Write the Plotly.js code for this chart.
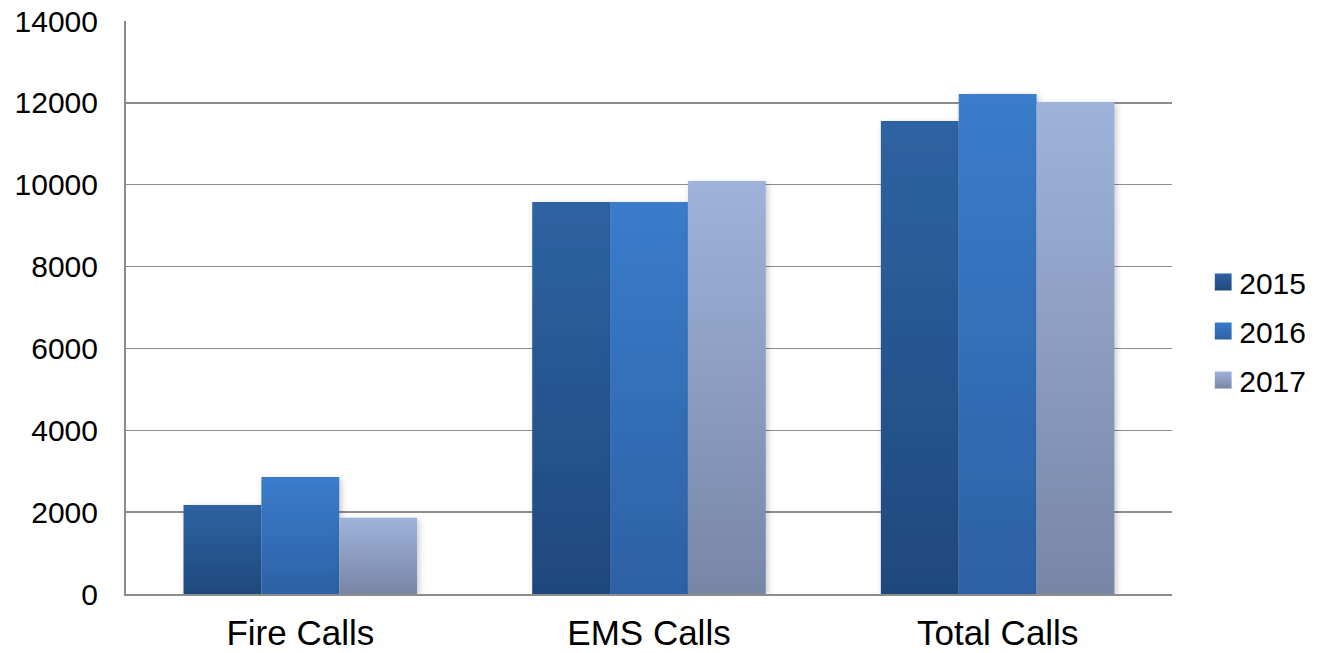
<!DOCTYPE html>
<html>
<head>
<meta charset="utf-8">
<script src="https://cdn.plot.ly/plotly-3.0.1.min.js"></script>
<style>
  html, body { margin: 0; padding: 0; background: #ffffff; }
  #chart { width: 1324px; height: 653px; }
</style>
</head>
<body>
<div id="chart"></div>
<script>
// Call volumes by category and year
const categories = ['Fire Calls', 'EMS Calls', 'Total Calls'];
const years = ['2015', '2016', '2017'];
const calls2015 = [2175, 9575, 11555];
const calls2016 = [2860, 9575, 12215];
const calls2017 = [1860, 10090, 12020];

// Top/bottom shades for each year's gradient fill
const topColors = ['#2E63A3', '#3A7CCB', '#9EB3DA'];
const bottomColors = ['#1F497D', '#2D61A5', '#7886A6'];

const series = [calls2015, calls2016, calls2017];

const traces = series.map((vals, i) => ({
  type: 'bar',
  name: years[i],
  x: categories,
  y: vals,
  legendgroup: years[i],
  marker: { color: topColors[i], line: { width: 0 } },
  hoverinfo: 'x+y+name'
}));

const layout = {
  width: 1324,
  height: 653,
  paper_bgcolor: '#ffffff',
  plot_bgcolor: '#ffffff',
  margin: { l: 126, r: 152, t: 21, b: 59, pad: 0 },
  barmode: 'group',
  bargap: 0.33,
  bargroupgap: 0,
  font: { family: '"Liberation Sans", Arial, sans-serif', color: '#000000' },
  xaxis: {
    showline: true,
    linecolor: '#8c8c8c',
    linewidth: 2,
    ticks: '',
    showgrid: false,
    tickfont: { size: 35, color: '#000000' },
    ticklabelstandoff: 7,
    fixedrange: true
  },
  yaxis: {
    range: [0, 14000],
    dtick: 2000,
    tickformat: 'd',
    showline: true,
    linecolor: '#8c8c8c',
    linewidth: 2,
    showgrid: true,
    gridcolor: '#8c8c8c',
    gridwidth: 1.5,
    zeroline: false,
    ticks: '',
    tickfont: { size: 30, color: '#000000' },
    ticklabelstandoff: 20,
    fixedrange: true
  },
  legend: {
    x: 1.026,
    xanchor: 'left',
    y: 0.459,
    yanchor: 'middle',
    font: { size: 30, color: '#000000' },
    tracegroupgap: 7,
    itemwidth: 30,
    bgcolor: 'rgba(0,0,0,0)'
  },
  showlegend: true
};

function ensureDefs(gd) {
  const svg = gd.querySelector('svg.main-svg');
  if (!svg) return;
  const ns = 'http://www.w3.org/2000/svg';
  let defs = svg.querySelector('defs');
  if (!defs) { defs = document.createElementNS(ns, 'defs'); svg.insertBefore(defs, svg.firstChild); }
  if (defs.querySelector('#barGrad0')) return;
  topColors.forEach((c, i) => {
    const g = document.createElementNS(ns, 'linearGradient');
    g.setAttribute('id', 'barGrad' + i);
    g.setAttribute('x1', '0'); g.setAttribute('y1', '0');
    g.setAttribute('x2', '0'); g.setAttribute('y2', '1');
    const s1 = document.createElementNS(ns, 'stop');
    s1.setAttribute('offset', '0'); s1.setAttribute('stop-color', c);
    const s2 = document.createElementNS(ns, 'stop');
    s2.setAttribute('offset', '1'); s2.setAttribute('stop-color', bottomColors[i]);
    g.appendChild(s1); g.appendChild(s2);
    defs.appendChild(g);
  });
  const f = document.createElementNS(ns, 'filter');
  f.setAttribute('id', 'barShadow');
  f.setAttribute('x', '-20%'); f.setAttribute('y', '-10%');
  f.setAttribute('width', '150%'); f.setAttribute('height', '130%');
  const ds = document.createElementNS(ns, 'feDropShadow');
  ds.setAttribute('dx', '2'); ds.setAttribute('dy', '2');
  ds.setAttribute('stdDeviation', '3');
  ds.setAttribute('flood-color', '#000000');
  ds.setAttribute('flood-opacity', '0.22');
  f.appendChild(ds);
  defs.appendChild(f);
}

function applyGradients(gd) {
  ensureDefs(gd);
  gd.querySelectorAll('.barlayer .trace').forEach((t, i) => {
    t.querySelectorAll('path').forEach(p => {
      p.style.fill = 'url(#barGrad' + i + ')';
      p.setAttribute('filter', 'url(#barShadow)');
    });
  });
  gd.querySelectorAll('.legend .traces').forEach((t, i) => {
    t.querySelectorAll('.legendpoints path').forEach(p => {
      p.style.fill = 'url(#barGrad' + i + ')';
      // enlarge the swatch square around its own centre
      if (!p.dataset.scaled) {
        const bb = p.getBBox();
        const cx = bb.x + bb.width / 2, cy = bb.y + bb.height / 2;
        const prev = p.getAttribute('transform') || '';
        p.setAttribute('transform', prev + ' translate(' + (cx + 4) + ',' + cy + ') scale(1.4) translate(' + (-cx) + ',' + (-cy) + ')');
        p.dataset.scaled = '1';
      }
    });
  });
}

const gd = document.getElementById('chart');
Plotly.newPlot(gd, traces, layout, { displayModeBar: false, staticPlot: true }).then(() => {
  applyGradients(gd);
  gd.on('plotly_afterplot', () => applyGradients(gd));
});
</script>
</body>
</html>
